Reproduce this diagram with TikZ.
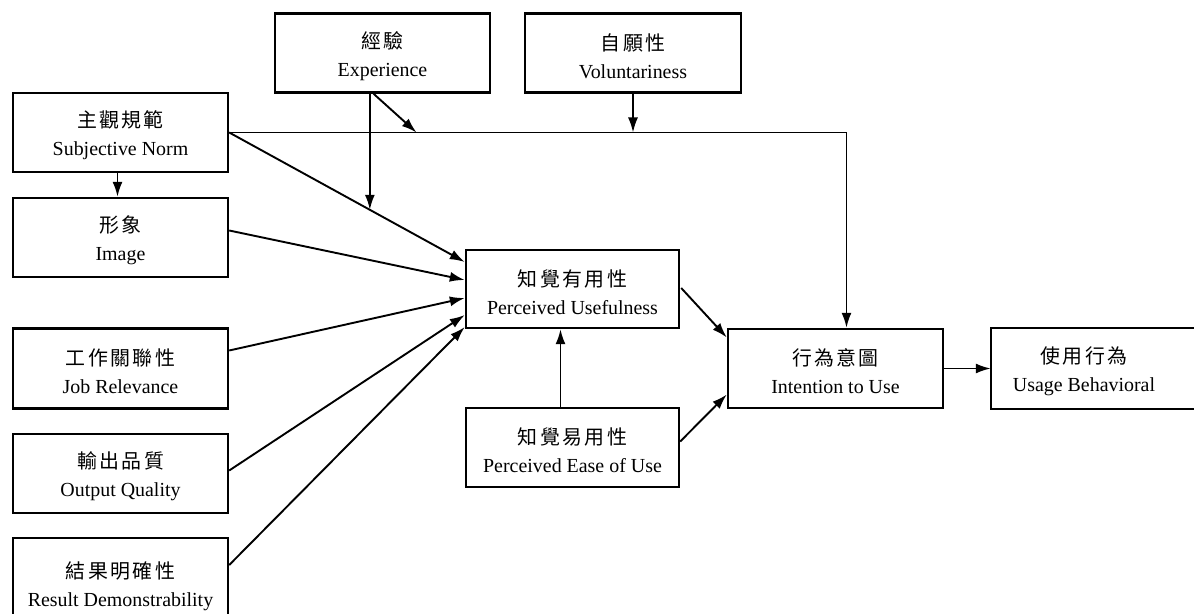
\documentclass[tikz,border=0pt]{standalone}
\usepackage{fontspec}
\setmainfont{Liberation Serif}
\newfontfamily\cjk[LetterSpace=12]{Noto Sans CJK TC}
\usetikzlibrary{arrows.meta,calc}
\newcommand\cjkline[1]{{\cjk\fontsize{20}{28}\selectfont\rule{0pt}{23bp}#1}}
\begin{document}
\begin{tikzpicture}[x=1bp,y=-1bp,
  txt/.style={align=center, inner sep=0pt, font=\fontsize{20}{28}\selectfont},
  box/.style={txt, draw, line width=2.4bp, minimum width=215bp, minimum height=79bp},
  boxline/.style={line width=2.4bp},
  conn/.style={line width=1.9bp, -{Latex[length=15bp,width=10bp]}}]
\useasboundingbox (0,0) rectangle (1194,614);

% boxes
\node[box] (exp) at (382.5,53) {\cjkline{經驗}\\Experience};
\node[box, minimum width=216bp] (vol) at (633,53) {\cjkline{自願性}\\Voluntariness};
\node[box] (sn) at (120.5,132.5) {\cjkline{主觀規範}\\Subjective Norm};
\node[box] (img) at (120.5,237.5) {\cjkline{形象}\\Image};
\node[box, minimum height=80bp] (job) at (120.5,368.5) {\cjkline{工作關聯性}\\Job Relevance};
\node[box] (out) at (120.5,473.5) {\cjkline{輸出品質}\\Output Quality};
\node[box, minimum height=90bp] (res) at (120.5,583) {\cjkline{結果明確性}\\Result Demonstrability};
\node[box, minimum width=213bp, minimum height=78bp] (pu) at (572.5,289) {\cjkline{知覺有用性}\\Perceived Usefulness};
\node[box, minimum width=213bp] (peou) at (572.5,447.5) {\cjkline{知覺易用性}\\Perceived Ease of Use};
\node[box] (int) at (835.5,368.5) {\cjkline{行為意圖}\\Intention to Use};
\node[txt, minimum width=186bp, minimum height=81bp] (ub) at (1084,368.5) {\cjkline{使用行為}\\Usage Behavioral};
\draw[boxline] ($(ub.north east)+(40,0)$) -- (ub.north west) -- (ub.south west) -- ($(ub.south east)+(40,0)$);

% points on the left side of PU
\coordinate (t1) at ($(pu.west)+(0,-27)$);
\coordinate (t2) at ($(pu.west)+(0,-9)$);
\coordinate (t3) at ($(pu.west)+(0,9)$);
\coordinate (t4) at ($(pu.west)+(0,26)$);
\coordinate (t5) at ($(pu.west)+(0,38)$);

% connectors
\draw[conn] (sn.east) -- (t1);
\coordinate (m) at ($(sn.east)!0.597!(t1)$);
\draw[conn] (exp.south -| m) -- (m);
\draw[conn] (sn.east) -| ($(int.north)+(11,0)$);
\coordinate (e2) at ($(sn.east -| exp.south)+(34,0)$);
\draw[conn] ($(exp.south)+(-9,0)$) -- (e2);
\draw[conn] (vol.south) -- (vol.south |- sn.east);
\draw[conn] ($(sn.south)+(-3,0)$) -- ($(img.north)+(-3,0)$);
\draw[conn] ($(img.east)+(0,-7)$) -- (t2);
\draw[conn] ($(job.east)+(0,-18)$) -- (t3);
\draw[conn] ($(out.east)+(0,-3)$) -- (t4);
\draw[conn] ($(res.east)+(0,-18)$) -- (t5);
\draw[conn] ($(peou.north)+(-12,0)$) -- ($(pu.south)+(-12,0)$);
\draw[conn] ($(pu.east)+(1,-1)$) -- ($(int.west)+(0,-31)$);
\draw[conn] ($(peou.east)+(0,-6)$) -- ($(int.west)+(0,26)$);
\draw[conn] (int.east) -- (ub.west);
\end{tikzpicture}
\end{document}
